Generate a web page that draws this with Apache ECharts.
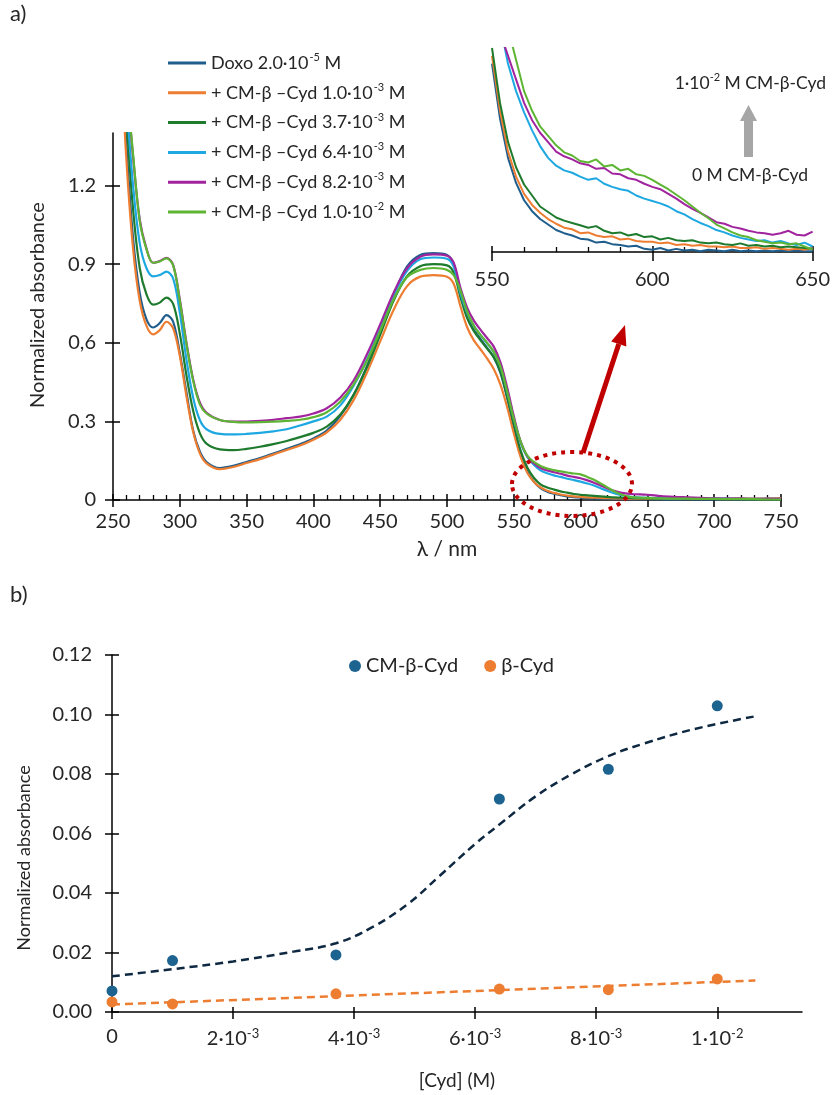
<!DOCTYPE html>
<html><head><meta charset="utf-8">
<script src="https://cdn.jsdelivr.net/npm/echarts/dist/echarts.min.js"></script>
<style>html,body{margin:0;padding:0;background:#fff}#c{width:833px;height:1095px}</style>
</head><body><div id="c"></div>
<script>
// ---------- Panel a: spectra ----------
const wavelengths = [256,260,265,270,275,280,285,290,295,300,305,310,315,320,330,340,350,360,370,380,390,400,410,420,430,440,450,460,470,480,490,500,505,510,515,520,525,530,535,540,545,550,555,560,565,570,575,580,585,590,595,600,605,610,615,620,625,630,635,640,650,660,670,680,690,700,710,720,730,740,750];
const doxo = [1.75,1.36,1.0,0.79,0.69,0.658,0.675,0.705,0.68,0.56,0.41,0.265,0.185,0.145,0.122,0.13,0.145,0.16,0.177,0.195,0.213,0.235,0.265,0.32,0.40,0.51,0.64,0.78,0.89,0.935,0.942,0.935,0.90,0.79,0.70,0.65,0.615,0.58,0.545,0.485,0.39,0.28,0.18,0.11,0.07,0.045,0.032,0.024,0.018,0.014,0.011,0.009,0.007,0.006,0.005,0.005,0.004,0.004,0.004,0.003,0.003,0.003,0.002,0.003,0.002,0.002,0.003,0.002,0.002,0.003,0.002];
const cm10e3 = [1.7,1.3,0.96,0.76,0.665,0.632,0.648,0.68,0.655,0.55,0.395,0.26,0.178,0.14,0.118,0.126,0.141,0.156,0.173,0.191,0.208,0.23,0.258,0.305,0.38,0.485,0.605,0.725,0.815,0.852,0.858,0.852,0.825,0.74,0.66,0.61,0.575,0.54,0.50,0.44,0.355,0.255,0.165,0.105,0.07,0.048,0.035,0.027,0.021,0.017,0.014,0.012,0.010,0.009,0.008,0.007,0.006,0.006,0.005,0.005,0.004,0.005,0.004,0.004,0.005,0.004,0.005,0.006,0.005,0.006,0.007];
const cm37e3 = [1.8,1.46,1.11,0.885,0.785,0.745,0.753,0.772,0.748,0.635,0.475,0.34,0.255,0.215,0.193,0.19,0.195,0.203,0.213,0.225,0.24,0.256,0.28,0.325,0.40,0.505,0.63,0.76,0.853,0.892,0.9,0.895,0.868,0.775,0.695,0.645,0.61,0.578,0.545,0.49,0.395,0.29,0.19,0.125,0.085,0.06,0.048,0.04,0.033,0.028,0.023,0.020,0.018,0.016,0.014,0.012,0.010,0.009,0.008,0.007,0.006,0.005,0.005,0.004,0.005,0.004,0.004,0.004,0.003,0.004,0.003];
const cm64e3 = [1.85,1.53,1.2,0.98,0.885,0.853,0.858,0.871,0.845,0.715,0.535,0.39,0.305,0.27,0.252,0.25,0.252,0.256,0.262,0.27,0.284,0.3,0.318,0.36,0.435,0.535,0.655,0.78,0.873,0.918,0.925,0.92,0.89,0.79,0.715,0.665,0.63,0.598,0.565,0.51,0.415,0.31,0.22,0.165,0.135,0.113,0.102,0.094,0.088,0.081,0.076,0.07,0.063,0.055,0.045,0.035,0.026,0.019,0.014,0.011,0.008,0.007,0.006,0.006,0.005,0.005,0.005,0.004,0.004,0.004,0.004];
const cm82e3 = [1.85,1.6,1.31,1.07,0.96,0.905,0.912,0.924,0.897,0.765,0.6,0.46,0.372,0.333,0.305,0.299,0.299,0.302,0.306,0.312,0.318,0.33,0.35,0.39,0.455,0.555,0.67,0.79,0.883,0.928,0.937,0.932,0.905,0.81,0.735,0.685,0.65,0.618,0.585,0.525,0.43,0.32,0.225,0.168,0.14,0.122,0.113,0.106,0.10,0.093,0.088,0.083,0.075,0.066,0.055,0.044,0.035,0.028,0.024,0.022,0.02,0.015,0.012,0.01,0.008,0.006,0.005,0.005,0.004,0.004,0.004];
const cm10e2 = [1.85,1.6,1.32,1.065,0.958,0.905,0.91,0.922,0.895,0.76,0.595,0.455,0.365,0.33,0.305,0.298,0.296,0.297,0.299,0.302,0.306,0.316,0.335,0.375,0.44,0.53,0.645,0.765,0.85,0.878,0.885,0.878,0.858,0.80,0.72,0.665,0.63,0.60,0.565,0.51,0.415,0.31,0.225,0.17,0.145,0.13,0.12,0.114,0.109,0.105,0.101,0.098,0.088,0.077,0.063,0.048,0.033,0.022,0.014,0.010,0.008,0.006,0.005,0.005,0.004,0.004,0.003,0.003,0.003,0.002,0.002];

// inset (zoom 550-650 nm)
const insetWavelengths = [550,552.5,555,557.5,560,562.5,565,567.5,570,572.5,575,577.5,580,582.5,585,587.5,590,592.5,595,597.5,600,602.5,605,607.5,610,612.5,615,617.5,620,622.5,625,627.5,630,632.5,635,637.5,640,642.5,645,647.5,650];
const insetDoxo = [0.24,0.17,0.12,0.088,0.066,0.052,0.042,0.035,0.028,0.024,0.021,0.017,0.016,0.012,0.013,0.010,0.009,0.007,0.008,0.004,0.003,0.005,0.002,0.004,0.002,0.003,0.001,0.003,0.002,0.001,0.003,0.001,0.002,0.001,0.002,0.001,0.002,0.001,0.002,0.001,0.001];
const insetCm10e3 = [0.25,0.18,0.128,0.096,0.074,0.060,0.050,0.042,0.036,0.031,0.029,0.024,0.025,0.021,0.019,0.020,0.016,0.017,0.014,0.013,0.013,0.011,0.012,0.009,0.010,0.008,0.009,0.007,0.007,0.006,0.007,0.005,0.005,0.006,0.004,0.005,0.004,0.003,0.004,0.003,0.005];
const insetCm37e3 = [0.26,0.19,0.14,0.108,0.086,0.072,0.058,0.051,0.044,0.040,0.037,0.034,0.031,0.033,0.027,0.024,0.025,0.021,0.023,0.019,0.020,0.016,0.018,0.015,0.014,0.015,0.012,0.011,0.012,0.010,0.009,0.011,0.008,0.009,0.007,0.008,0.006,0.007,0.006,0.005,0.004];
const insetCm64e3 = [0.36,0.29,0.24,0.205,0.178,0.155,0.135,0.12,0.11,0.104,0.101,0.096,0.092,0.094,0.087,0.083,0.080,0.078,0.072,0.068,0.065,0.062,0.058,0.052,0.048,0.042,0.037,0.033,0.028,0.025,0.021,0.018,0.016,0.014,0.015,0.012,0.014,0.011,0.009,0.012,0.007];
const insetCm82e3 = [0.40,0.28,0.25,0.22,0.19,0.168,0.152,0.140,0.128,0.122,0.118,0.113,0.111,0.106,0.107,0.100,0.099,0.094,0.092,0.087,0.083,0.080,0.074,0.068,0.061,0.055,0.050,0.044,0.038,0.036,0.032,0.030,0.027,0.025,0.024,0.022,0.024,0.027,0.022,0.021,0.026];
const insetCm10e2 = [0.40,0.33,0.285,0.245,0.205,0.18,0.16,0.148,0.136,0.127,0.123,0.116,0.114,0.118,0.109,0.111,0.104,0.106,0.099,0.097,0.092,0.086,0.080,0.073,0.066,0.058,0.050,0.043,0.035,0.030,0.025,0.021,0.019,0.015,0.013,0.011,0.012,0.010,0.011,0.007,0.003];

const seriesNames = ['Doxo 2.0·10-5 M','+ CM-β –Cyd 1.0·10-3 M','+ CM-β –Cyd 3.7·10-3 M','+ CM-β –Cyd 6.4·10-3 M','+ CM-β –Cyd 8.2·10-3 M','+ CM-β –Cyd 1.0·10-2 M'];
const legendMain = ['Doxo 2.0·10','+ CM-β –Cyd 1.0·10','+ CM-β –Cyd 3.7·10','+ CM-β –Cyd 6.4·10','+ CM-β –Cyd 8.2·10','+ CM-β –Cyd 1.0·10'];
const legendExp = ['-5','-3','-3','-3','-3','-2'];
const seriesColors = ['#1F5E8C','#ED7D31','#1E7A2C','#1DA8E2','#A1249E','#5DB533'];

const absTicks = [0,0.3,0.6,0.9,1.2];
const absTickLabels = ['0','0.3','0,6','0.9','1.2'];

// ---------- Panel b ----------
const cydConc = [0,0.001,0.0037,0.0064,0.0082,0.01];
const cmAbs = [0.0071,0.0173,0.0192,0.0716,0.0816,0.1029];
const betaAbs = [0.0034,0.0027,0.0061,0.0077,0.0075,0.0111];
const cmFitConc = [0,0.001,0.002,0.003,0.0037,0.0043,0.0049,0.0054,0.006,0.0064,0.007,0.0076,0.0082,0.0088,0.0096,0.01063];
const cmFitAbs = [0.012,0.0144,0.017,0.0203,0.0231,0.0285,0.0365,0.0455,0.0565,0.063,0.0725,0.08,0.086,0.0903,0.095,0.0994];
const betaFitConc = [0,0.01063];
const betaFitAbs = [0.0025,0.0106];
const cydTicks = [0,0.002,0.004,0.006,0.008,0.01];
const cydTickLabels = ['0','2·10{s|-3}','4·10{s|-3}','6·10{s|-3}','8·10{s|-3}','1·10{s|-2}'];
const bAbsTicks = [0,0.02,0.04,0.06,0.08,0.10,0.12];

const FONT = 'Lato, "Open Sans", sans-serif';
const TXT = '#262626';
const zip = (xs, ys) => xs.map((x, i) => [x, ys[i]]);
const nearestIdx = (arr, v) => { let b = 0; arr.forEach((a, i) => { if (Math.abs(a - v) < Math.abs(arr[b] - v)) b = i; }); return b; };

const mainData = [doxo, cm10e3, cm37e3, cm64e3, cm82e3, cm10e2];
const insetData = [insetDoxo, insetCm10e3, insetCm37e3, insetCm64e3, insetCm82e3, insetCm10e2];

const axisLineStyle = { color: '#000', width: 1.5 };
const series = [];
mainData.forEach((d, i) => series.push({
  name: seriesNames[i], type: 'line', xAxisIndex: 0, yAxisIndex: 0,
  data: zip(wavelengths, d), showSymbol: false, smooth: 0.35,
  lineStyle: { color: seriesColors[i], width: 2.2 }, itemStyle: { color: seriesColors[i] }, clip: true, silent: true
}));
insetData.forEach((d, i) => series.push({
  name: seriesNames[i], type: 'line', xAxisIndex: 2, yAxisIndex: 2,
  data: zip(insetWavelengths, d), showSymbol: false,
  lineStyle: { color: seriesColors[i], width: 2 }, itemStyle: { color: seriesColors[i] }, clip: true, silent: true
}));
series.push(
  { name: 'CM fit', type: 'line', xAxisIndex: 4, yAxisIndex: 4, data: zip(cmFitConc, cmFitAbs), showSymbol: false, smooth: 0.4,
    lineStyle: { color: '#0E2841', width: 2.5, type: [8, 5] }, z: 2 },
  { name: 'β fit', type: 'line', xAxisIndex: 4, yAxisIndex: 4, data: zip(betaFitConc, betaFitAbs), showSymbol: false,
    lineStyle: { color: '#ED7D31', width: 2.5, type: [8, 5] }, z: 2 },
  { name: 'CM-β-Cyd', type: 'scatter', xAxisIndex: 4, yAxisIndex: 4, data: zip(cydConc, cmAbs), symbolSize: 11,
    itemStyle: { color: '#1D6390', opacity: 1 }, z: 3 },
  { name: 'β-Cyd', type: 'scatter', xAxisIndex: 4, yAxisIndex: 4, data: zip(cydConc, betaAbs), symbolSize: 11,
    itemStyle: { color: '#ED7D31', opacity: 1 }, z: 3 }
);

const supRich = {
  t: { fontSize: 18, lineHeight: 22, color: TXT, fontFamily: FONT },
  s: { fontSize: 11, lineHeight: 22, verticalAlign: 'top', color: TXT, fontFamily: FONT, padding: [0, 0, 0, 1] }
};

// red arrow geometry (annotation)
const arrowTail = [583, 453], arrowTip = [625, 325];
const dx = arrowTip[0] - arrowTail[0], dy = arrowTip[1] - arrowTail[1];
const L = Math.hypot(dx, dy), ux = dx / L, uy = dy / L, nx = -uy, ny = ux;
const headLen = 20, headHalf = 8;
const baseC = [arrowTip[0] - headLen * ux, arrowTip[1] - headLen * uy];

const option = {
  backgroundColor: '#fff',
  animation: false,
  textStyle: { fontFamily: FONT },
  grid: [
    { left: 113, top: 133, width: 668, height: 367 },
    { left: 492, top: 48, width: 323, height: 204 },
    { left: 112, top: 655, width: 690, height: 357 }
  ],
  xAxis: [
    { gridIndex: 0, type: 'value', min: 250, max: 750, interval: 50,
      axisLine: { lineStyle: axisLineStyle }, axisTick: { inside: false, length: 7, lineStyle: axisLineStyle },
      axisLabel: { fontSize: 20, color: TXT, margin: 12, fontFamily: FONT }, splitLine: { show: false } },
    { gridIndex: 0, type: 'value', min: 250, max: 750, interval: 50, position: 'bottom',
      axisLine: { show: false }, axisTick: { inside: true, length: 6, lineStyle: axisLineStyle },
      minorTick: { show: true, splitNumber: 5, length: 5, lineStyle: { color: '#000', width: 1.3 } },
      axisLabel: { show: false }, splitLine: { show: false } },
    { gridIndex: 1, type: 'value', min: 550, max: 650, interval: 50,
      axisLine: { lineStyle: axisLineStyle }, axisTick: { inside: false, length: 9, lineStyle: axisLineStyle },
      axisLabel: { fontSize: 20, color: TXT, margin: 18, fontFamily: FONT }, splitLine: { show: false } },
    { gridIndex: 1, type: 'value', min: 550, max: 650, interval: 50, position: 'bottom',
      axisLine: { show: false }, axisTick: { inside: true, length: 6, lineStyle: axisLineStyle },
      minorTick: { show: true, splitNumber: 5, length: 5, lineStyle: { color: '#000', width: 1.3 } },
      axisLabel: { show: false }, splitLine: { show: false } },
    { gridIndex: 2, type: 'value', min: 0, max: 0.0114,
      axisLine: { lineStyle: axisLineStyle },
      axisTick: { inside: false, length: 7, lineStyle: axisLineStyle, customValues: cydTicks },
      axisLabel: { fontSize: 20, color: TXT, margin: 15, fontFamily: FONT, customValues: cydTicks,
        formatter: (v) => cydTickLabels[nearestIdx(cydTicks, v)],
        rich: { s: { fontSize: 13, verticalAlign: 'top', lineHeight: 24, color: TXT, fontFamily: FONT } } },
      splitLine: { show: false } },
    { gridIndex: 2, type: 'value', min: 0, max: 0.0114, position: 'bottom',
      axisLine: { show: false }, axisTick: { inside: true, length: 5, lineStyle: axisLineStyle, customValues: cydTicks },
      axisLabel: { show: false }, splitLine: { show: false } }
  ],
  yAxis: [
    { gridIndex: 0, type: 'value', min: 0, max: 1.4,
      axisLine: { show: true, lineStyle: axisLineStyle },
      axisTick: { show: true, inside: false, length: 8, lineStyle: axisLineStyle, customValues: absTicks },
      axisLabel: { fontSize: 20, color: TXT, margin: 17, fontFamily: FONT, customValues: absTicks,
        formatter: (v) => absTickLabels[nearestIdx(absTicks, v)] },
      splitLine: { show: false } },
    { gridIndex: 0, type: 'value', min: 0, max: 1.4, position: 'left',
      axisLine: { show: false }, axisTick: { show: true, inside: true, length: 7, lineStyle: axisLineStyle, customValues: absTicks },
      axisLabel: { show: false }, splitLine: { show: false } },
    { gridIndex: 1, type: 'value', min: 0, max: 0.26, show: false },
    { gridIndex: 1, type: 'value', min: 0, max: 0.26, show: false },
    { gridIndex: 2, type: 'value', min: 0, max: 0.12,
      axisLine: { show: true, lineStyle: axisLineStyle },
      axisTick: { show: true, inside: false, length: 7, lineStyle: axisLineStyle, customValues: bAbsTicks },
      axisLabel: { fontSize: 20, color: TXT, margin: 20, fontFamily: FONT, customValues: bAbsTicks,
        formatter: (v) => v.toFixed(2) },
      splitLine: { show: false } },
    { gridIndex: 2, type: 'value', min: 0, max: 0.12, position: 'left',
      axisLine: { show: false }, axisTick: { show: true, inside: true, length: 7, lineStyle: axisLineStyle, customValues: bAbsTicks },
      axisLabel: { show: false }, splitLine: { show: false } }
  ],
  legend: [
    { data: seriesNames, orient: 'vertical', left: 163, top: 47, itemWidth: 38, itemHeight: 3, itemGap: 9.8,
      icon: 'rect', selectedMode: false,
      formatter: (name) => { const i = seriesNames.indexOf(name); return `{t|${legendMain[i]}}{s|${legendExp[i]}}{t| M}`; },
      textStyle: { rich: supRich } },
    { data: ['CM-β-Cyd', 'β-Cyd'], orient: 'horizontal', left: 344, top: 651, itemWidth: 12, itemHeight: 12,
      itemGap: 26, icon: 'circle', selectedMode: false,
      textStyle: { fontSize: 20, color: TXT, fontFamily: FONT } }
  ],
  graphic: [
    { type: 'text', left: 10, top: 3, style: { text: 'a)', fontSize: 22, fill: TXT, fontFamily: FONT } },
    { type: 'text', left: 10, top: 584, style: { text: 'b)', fontSize: 22, fill: TXT, fontFamily: FONT } },
    { type: 'text', x: 38, y: 305, rotation: Math.PI / 2,
      style: { text: 'Normalized absorbance', fontSize: 20, fill: TXT, fontFamily: FONT, align: 'center', verticalAlign: 'middle' } },
    { type: 'text', x: 24, y: 858, rotation: Math.PI / 2,
      style: { text: 'Normalized absorbance', fontSize: 18, fill: TXT, fontFamily: FONT, align: 'center', verticalAlign: 'middle' } },
    { type: 'text', x: 447, y: 549,
      style: { text: 'λ / nm', fontSize: 21, fill: TXT, fontFamily: FONT, align: 'center', verticalAlign: 'middle' } },
    { type: 'text', x: 457, y: 1081,
      style: { text: '[Cyd] (M)', fontSize: 19, fill: TXT, fontFamily: FONT, align: 'center', verticalAlign: 'middle' } },
    { type: 'text', x: 826, y: 83,
      style: { text: '{n|1·10}{s|-2}{n| M CM-β-Cyd}', align: 'right', verticalAlign: 'middle',
        rich: { n: { fontSize: 17.5, lineHeight: 22, fill: TXT, fontFamily: FONT }, s: { fontSize: 11, lineHeight: 22, verticalAlign: 'top', fill: TXT, fontFamily: FONT } } } },
    { type: 'text', x: 750, y: 175,
      style: { text: '0 M CM-β-Cyd', fontSize: 17.5, fill: TXT, fontFamily: FONT, align: 'center', verticalAlign: 'middle' } },
    { type: 'polygon', z: 100,
      shape: { points: [[744, 157], [744, 121], [740, 121], [748.5, 105], [757, 121], [753, 121], [753, 157]] },
      style: { fill: '#A6A6A6' } },
    { type: 'line', z: 100, shape: { x1: arrowTail[0], y1: arrowTail[1], x2: baseC[0], y2: baseC[1] },
      style: { stroke: '#C00000', lineWidth: 5 } },
    { type: 'polygon', z: 100,
      shape: { points: [arrowTip, [baseC[0] + headHalf * nx, baseC[1] + headHalf * ny], [baseC[0] - headHalf * nx, baseC[1] - headHalf * ny]] },
      style: { fill: '#C00000' } },
    { type: 'ellipse', z: 100, shape: { cx: 572, cy: 484, rx: 60, ry: 32 },
      style: { fill: 'none', stroke: '#C00000', lineWidth: 4, lineDash: [4, 5] } }
  ],
  series
};
const chart = echarts.init(document.getElementById('c'), null, { renderer: 'canvas' });
chart.setOption(option);
</script>
</body></html>
